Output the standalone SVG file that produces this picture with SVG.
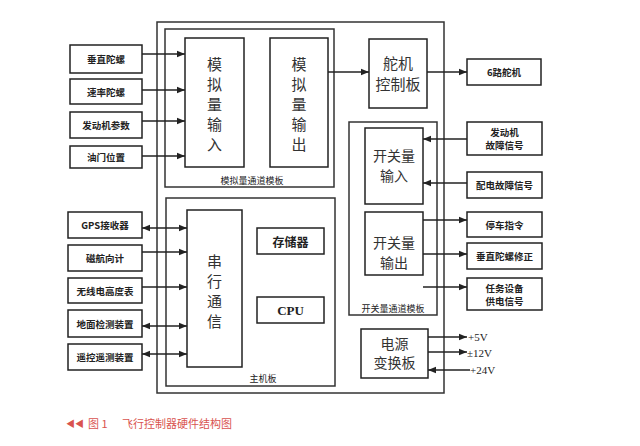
<svg xmlns="http://www.w3.org/2000/svg" width="640" height="446" viewBox="0 0 640 446">
<defs>
<style>
.bx{fill:#fff;stroke:#222;stroke-width:1.5}
.fr{fill:none;stroke:#333;stroke-width:1.5}
.ln{fill:none;stroke:#222;stroke-width:1.4}
.sm{font-family:"Noto Sans CJK SC","Liberation Sans",sans-serif;font-size:9.5px;font-weight:bold;fill:#222;text-anchor:middle;dominant-baseline:central}
.bg{font-family:"Noto Sans CJK SC","Liberation Sans",sans-serif;font-size:15px;fill:#333;text-anchor:middle;dominant-baseline:central}
.tp{font-family:"Noto Sans CJK SC","Liberation Sans",sans-serif;font-size:9px;fill:#222;text-anchor:middle;dominant-baseline:central}
.sf{font-family:"Liberation Serif",serif;font-size:11px;fill:#222;dominant-baseline:central}
.cap{font-family:"Noto Sans CJK SC","Liberation Sans",sans-serif;font-size:11px;fill:#d9534f;dominant-baseline:central}
</style>
<marker id="ah" viewBox="0 0 10 10" refX="10" refY="5" markerWidth="8" markerHeight="8" markerUnits="userSpaceOnUse" orient="auto-start-reverse">
<path d="M0,1 L10,5 L0,9 z" fill="#222"/>
</marker>
</defs>
<rect width="640" height="446" fill="#fff"/>

<g id="frame">
<rect class="fr" x="157" y="22" width="287" height="371"/>
</g>
<g id="analog-template">
<rect class="fr" x="165" y="29" width="169" height="158"/>
<text class="tp" x="252" y="180">模拟量通道模板</text>
</g>
<g id="main-board">
<rect class="fr" x="166" y="198" width="169" height="188"/>
<text class="tp" x="263" y="378">主机板</text>
</g>
<g id="switch-template">
<rect class="fr" x="349" y="122" width="88" height="193"/>
<text class="tp" x="393" y="308">开关量通道模板</text>
</g>

<g id="analog-in">
<rect class="bx" x="185" y="38" width="59" height="129"/>
<text class="bg" x="214.5" y="63">模</text><text class="bg" x="214.5" y="83">拟</text><text class="bg" x="214.5" y="103">量</text><text class="bg" x="214.5" y="123">输</text><text class="bg" x="214.5" y="143">入</text>
</g>
<g id="analog-out">
<rect class="bx" x="270" y="38" width="58" height="129"/>
<text class="bg" x="299" y="63">模</text><text class="bg" x="299" y="83">拟</text><text class="bg" x="299" y="103">量</text><text class="bg" x="299" y="123">输</text><text class="bg" x="299" y="143">出</text>
</g>
<g id="servo-board">
<rect class="bx" x="369" y="39" width="58" height="69"/>
<text class="bg" x="398" y="62">舵机</text><text class="bg" x="398" y="83">控制板</text>
</g>
<g id="servo6">
<rect class="bx" x="467" y="59" width="74" height="26"/>
<text class="sm" x="504" y="72">6路舵机</text>
</g>

<g id="in1"><rect class="bx" x="70" y="45" width="72" height="28"/><text class="sm" x="106" y="59">垂直陀螺</text></g>
<g id="in2"><rect class="bx" x="70" y="79" width="72" height="25"/><text class="sm" x="106" y="91.5">速率陀螺</text></g>
<g id="in3"><rect class="bx" x="70" y="112" width="72" height="26"/><text class="sm" x="106" y="125">发动机参数</text></g>
<g id="in4"><rect class="bx" x="70" y="146" width="72" height="22"/><text class="sm" x="106" y="157">油门位置</text></g>

<g id="gps"><rect class="bx" x="68" y="212" width="74" height="26"/><text class="sm" x="105" y="225">GPS接收器</text></g>
<g id="compass"><rect class="bx" x="68" y="245" width="74" height="26"/><text class="sm" x="105" y="258">磁航向计</text></g>
<g id="radalt"><rect class="bx" x="68" y="278" width="74" height="25"/><text class="sm" x="105" y="290.5">无线电高度表</text></g>
<g id="ground"><rect class="bx" x="68" y="310" width="74" height="27"/><text class="sm" x="105" y="323.5">地面检测装置</text></g>
<g id="telemetry"><rect class="bx" x="68" y="344" width="74" height="26"/><text class="sm" x="105" y="357">遥控遥测装置</text></g>

<g id="serial">
<rect class="bx" x="187" y="210" width="55" height="157"/>
<text class="bg" x="214.5" y="260">串</text><text class="bg" x="214.5" y="280">行</text><text class="bg" x="214.5" y="300">通</text><text class="bg" x="214.5" y="320">信</text>
</g>
<g id="memory"><rect class="bx" x="257" y="228" width="67" height="26"/><text class="sm" x="290.5" y="241" style="font-size:12px">存储器</text></g>
<g id="cpu"><rect class="bx" x="257" y="297" width="67" height="26"/><text class="sf" x="290.5" y="310" style="font-size:13px;font-weight:bold;text-anchor:middle">CPU</text></g>

<g id="sw-in">
<rect class="bx" x="365" y="128" width="58" height="76"/>
<text class="bg" x="394" y="155" style="font-size:14px">开关量</text><text class="bg" x="394" y="175" style="font-size:14px">输入</text>
</g>
<g id="sw-out">
<rect class="bx" x="365" y="212" width="58" height="63"/>
<text class="bg" x="394" y="242" style="font-size:14px">开关量</text><text class="bg" x="394" y="262" style="font-size:14px">输出</text>
</g>
<g id="power">
<rect class="bx" x="361" y="329" width="67" height="49"/>
<text class="bg" x="394.5" y="343" style="font-size:14px">电源</text><text class="bg" x="394.5" y="362" style="font-size:14px">变换板</text>
</g>

<g id="eng-fault"><rect class="bx" x="467" y="122" width="75" height="33"/><text class="sm" x="504.5" y="132">发动机</text><text class="sm" x="504.5" y="145">故障信号</text></g>
<g id="pwr-fault"><rect class="bx" x="467" y="172" width="75" height="26"/><text class="sm" x="504.5" y="185">配电故障信号</text></g>
<g id="stop"><rect class="bx" x="467" y="212" width="75" height="25"/><text class="sm" x="504.5" y="224.5">停车指令</text></g>
<g id="gyro-fix"><rect class="bx" x="467" y="243" width="75" height="26"/><text class="sm" x="504.5" y="256">垂直陀螺修正</text></g>
<g id="mission"><rect class="bx" x="467" y="278" width="75" height="32"/><text class="sm" x="504.5" y="287.5">任务设备</text><text class="sm" x="504.5" y="300.5">供电信号</text></g>

<g id="connectors">
<line class="ln" x1="142" y1="54" x2="185" y2="54" marker-end="url(#ah)"/>
<line class="ln" x1="142" y1="90" x2="185" y2="90" marker-end="url(#ah)"/>
<line class="ln" x1="142" y1="121" x2="185" y2="121" marker-end="url(#ah)"/>
<line class="ln" x1="142" y1="156" x2="185" y2="156" marker-end="url(#ah)"/>
<line class="ln" x1="328" y1="72" x2="369" y2="72" marker-end="url(#ah)"/>
<line class="ln" x1="427" y1="72" x2="467" y2="72" marker-end="url(#ah)"/>
<line class="ln" x1="142" y1="228" x2="187" y2="228" marker-start="url(#ah)" marker-end="url(#ah)"/>
<line class="ln" x1="142" y1="252" x2="187" y2="252" marker-end="url(#ah)"/>
<line class="ln" x1="142" y1="287" x2="187" y2="287" marker-end="url(#ah)"/>
<line class="ln" x1="142" y1="326" x2="187" y2="326" marker-start="url(#ah)" marker-end="url(#ah)"/>
<line class="ln" x1="142" y1="354" x2="187" y2="354" marker-start="url(#ah)" marker-end="url(#ah)"/>
<line class="ln" x1="467" y1="139" x2="423" y2="139" marker-end="url(#ah)"/>
<line class="ln" x1="467" y1="183" x2="423" y2="183" marker-end="url(#ah)"/>
<line class="ln" x1="423" y1="220" x2="467" y2="220" marker-end="url(#ah)"/>
<line class="ln" x1="423" y1="254" x2="467" y2="254" marker-end="url(#ah)"/>
<line class="ln" x1="423" y1="287" x2="467" y2="287" marker-end="url(#ah)"/>
<line class="ln" x1="428" y1="337" x2="467" y2="337" marker-end="url(#ah)"/>
<line class="ln" x1="428" y1="352" x2="467" y2="352" marker-end="url(#ah)"/>
<line class="ln" x1="470" y1="370" x2="428" y2="370" marker-end="url(#ah)"/>
</g>
<text class="sf" x="468" y="337">+5V</text>
<text class="sf" x="467" y="353">±12V</text>
<text class="sf" x="470" y="370">+24V</text>

<g id="caption">
<text class="cap" x="66" y="423" style="font-size:9px">◀◀</text>
<text class="cap" x="88" y="423">图 1</text>
<text class="cap" x="122" y="423">飞行控制器硬件结构图</text>
</g>
</svg>
